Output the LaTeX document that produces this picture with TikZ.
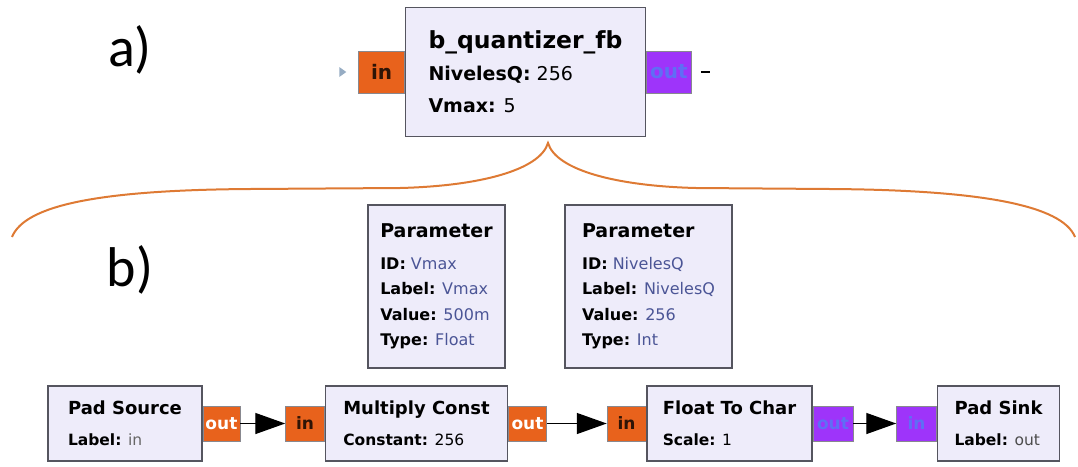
\documentclass[tikz,border=0pt]{standalone}
\usepackage{fontspec}
\setmainfont{DejaVu Sans}
\newfontfamily\carlito{Carlito}
\usetikzlibrary{positioning,arrows.meta}
\definecolor{boxfill}{RGB}{238,236,250}
\definecolor{boxline}{RGB}{85,85,95}
\definecolor{portor}{RGB}{232,98,28}
\definecolor{portpu}{RGB}{158,52,250}
\definecolor{bracec}{RGB}{222,122,52}
\definecolor{valc}{RGB}{75,85,150}
\definecolor{stubc}{RGB}{150,172,195}
\newcommand{\val}[1]{\textcolor{valc}{#1}}
\begin{document}
\begin{tikzpicture}[x=1pt,y=-1pt,
  blk/.style={draw=boxline,fill=boxfill,line width=1.3pt,align=left,inner sep=0pt},
  prt/.style={draw=boxline!70,line width=0.6pt,minimum height=35,inner sep=0pt,
    font=\fontsize{17}{17}\selectfont\bfseries},
  orp/.style={prt,fill=portor,text=black!80!portor},
  orq/.style={orp,text=white},
  pup/.style={prt,fill=portpu,text={rgb,255:red,95;green,110;blue,245}},
  wire/.style={line width=1.4pt,-{Triangle[length=30pt,width=21pt]}},
  sub/.style={font=\carlito\fontsize{56}{56}\selectfont}]
\useasboundingbox (0,0) rectangle (1078,466);
% labels
\node[sub] (lbla) at (130,50) {a)};
\node[sub] (lblb) at (130,270) {b)};
% hierarchical block
\node[blk,minimum width=240,minimum height=129,font=\fontsize{19}{32}\selectfont] (quant) at (525.5,72)
  {{\fontsize{23.5}{23.5}\selectfont\bfseries b\_quantizer\_fb}\\\textbf{NivelesQ:} 256\\\textbf{Vmax:} 5};
\node[orp,minimum width=46,minimum height=42,font=\fontsize{20}{20}\selectfont\bfseries,left=0pt of quant] (qin) {in};
\node[pup,minimum width=45,minimum height=42,font=\fontsize{20}{20}\selectfont\bfseries,right=0pt of quant] (qout) {out};
\fill[stubc] ([xshift=-19pt,yshift=-5pt]qin.west) -- ([xshift=-12pt]qin.west) -- ([xshift=-19pt,yshift=5pt]qin.west) -- cycle;
\draw[line width=2pt] ([xshift=9pt]qout.east) -- ([xshift=18pt]qout.east);
% brace
\draw[bracec,line width=2pt] (12,237) .. controls (25,205) and (100,190) .. (250,189)
  -- (400,188) .. controls (480,186) and (540,170) .. (548,143)
  .. controls (556,170) and (616,186) .. (696,188) -- (830,189)
  .. controls (980,190) and (1062,205) .. (1075,237);
% parameters
\node[blk,minimum width=137,minimum height=163,font=\fontsize{16}{25.5}\selectfont] (vmax) at (436.5,286.5)
  {{\fontsize{19}{19}\selectfont\bfseries Parameter}\\[6.5pt]\textbf{ID:} \val{Vmax}\\\textbf{Label:} \val{Vmax}\\
   \textbf{Value:} \val{500m}\\\textbf{Type:} \val{Float}};
\node[blk,minimum width=167,minimum height=163,font=\fontsize{16}{25.5}\selectfont] (nivq) at (648.5,286.5)
  {{\fontsize{19}{19}\selectfont\bfseries Parameter}\\[6.5pt]\textbf{ID:} \val{NivelesQ}\\\textbf{Label:} \val{NivelesQ}\\
   \textbf{Value:} \val{256}\\\textbf{Type:} \val{Int}};
% flowgraph
\node[blk,minimum width=154,minimum height=75,font=\fontsize{15.5}{31}\selectfont] (src) at (125,423.5)
  {{\fontsize{18}{18}\selectfont\bfseries Pad Source}\\\textbf{Label:} \textcolor{black!60}{in}};
\node[orq,minimum width=37,right=0pt of src] (srcout) {out};
\node[orp,minimum width=39,right=45pt of srcout] (mulin) {in};
\node[blk,minimum width=182,minimum height=75,font=\fontsize{15.5}{31}\selectfont,right=0pt of mulin] (mul)
  {{\fontsize{18}{18}\selectfont\bfseries Multiply Const}\\\textbf{Constant:} 256};
\node[orq,minimum width=38,right=0pt of mul] (mulout) {out};
\node[orp,minimum width=39,right=60pt of mulout] (fltin) {in};
\node[blk,minimum width=165,minimum height=75,font=\fontsize{15.5}{31}\selectfont,right=0pt of fltin] (flt)
  {{\fontsize{18}{18}\selectfont\bfseries Float To Char}\\\textbf{Scale:} 1};
\node[pup,minimum width=40,right=0pt of flt] (fltout) {out};
\node[pup,minimum width=40,right=43pt of fltout] (snkin) {in};
\node[blk,minimum width=122,minimum height=75,font=\fontsize{15.5}{31}\selectfont,right=0pt of snkin] (snk)
  {{\fontsize{18}{18}\selectfont\bfseries Pad Sink}\\\textbf{Label:} \textcolor{black!70}{out}};
\draw[wire] (srcout) -- (mulin);
\draw[wire] (mulout) -- (fltin);
\draw[wire] (fltout) -- (snkin);
\end{tikzpicture}
\end{document}
